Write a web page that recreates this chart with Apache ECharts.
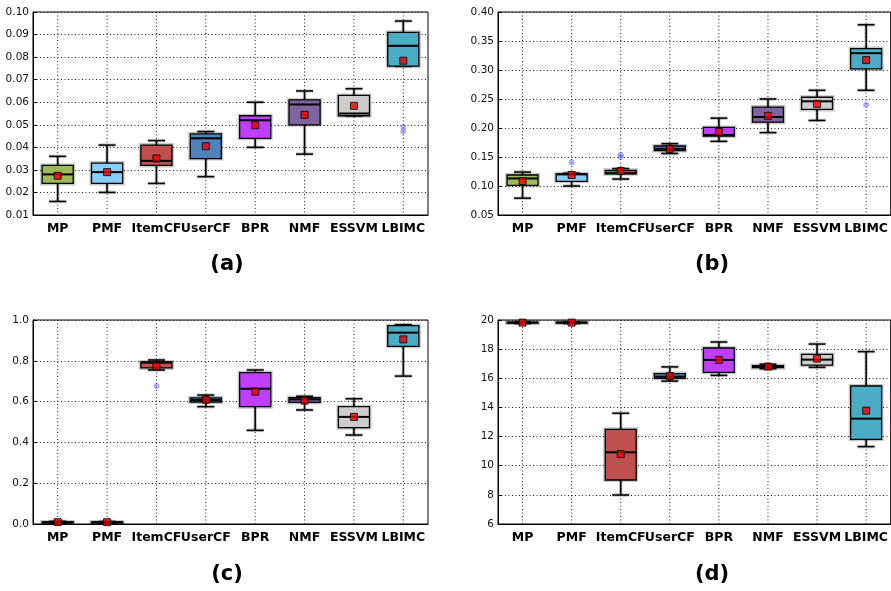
<!DOCTYPE html>
<html><head><meta charset="utf-8">
<script src="https://cdn.jsdelivr.net/npm/echarts@6/dist/echarts.min.js"></script>
<style>html,body{margin:0;padding:0;background:#fff}#c{width:891px;height:591px}</style>
</head><body><div id="c"></div>
<script>
const categories = ['MP','PMF','ItemCF','UserCF','BPR','NMF','ESSVM','LBIMC'];
const boxColors = ['#9bbb59','#87cefa','#c0504d','#4f81bd','#bf3eff','#8064a2','#cccccc','#4bacc6'];

// [low, q1, median, q3, high]
const boxA = [[0.016,0.024,0.028,0.032,0.036],[0.020,0.024,0.029,0.033,0.041],[0.024,0.032,0.034,0.041,0.043],[0.027,0.035,0.044,0.046,0.047],[0.040,0.044,0.052,0.054,0.060],[0.037,0.050,0.059,0.061,0.065],[0.054,0.054,0.055,0.063,0.066],[0.076,0.076,0.085,0.091,0.096]];
const meanA = [0.0274,0.029,0.0351,0.0405,0.0498,0.0544,0.0584,0.0784];
const outA = [['LBIMC',0.049],['LBIMC',0.047]];

const boxB = [[0.079,0.101,0.113,0.119,0.124],[0.100,0.108,0.120,0.121,0.122],[0.112,0.121,0.122,0.127,0.130],[0.156,0.161,0.164,0.169,0.173],[0.177,0.186,0.188,0.201,0.217],[0.192,0.210,0.219,0.236,0.250],[0.213,0.232,0.246,0.253,0.265],[0.265,0.302,0.329,0.337,0.378]];
const meanB = [0.1085,0.119,0.126,0.164,0.193,0.221,0.2416,0.317];
const outB = [['PMF',0.141],['ItemCF',0.154],['ItemCF',0.150],['LBIMC',0.240]];

const boxC = [[0.003,0.006,0.008,0.010,0.013],[0.003,0.006,0.008,0.010,0.012],[0.755,0.765,0.791,0.794,0.804],[0.575,0.598,0.608,0.618,0.632],[0.459,0.575,0.663,0.742,0.755],[0.559,0.596,0.611,0.619,0.626],[0.436,0.472,0.525,0.575,0.614],[0.725,0.871,0.938,0.972,0.977]];
const meanC = [0.009,0.009,0.773,0.609,0.649,0.605,0.525,0.905];
const outC = [['ItemCF',0.676]];

const boxD = [[19.76,19.79,19.82,19.85,19.87],[19.76,19.79,19.82,19.85,19.87],[7.99,9.02,10.92,12.5,13.6],[15.81,16.0,16.11,16.32,16.78],[16.2,16.41,17.26,18.08,18.49],[16.66,16.73,16.8,16.87,16.96],[16.75,16.91,17.28,17.64,18.35],[11.31,11.81,13.23,15.47,17.83]];
const meanD = [19.82,19.82,10.8,16.16,17.26,16.8,17.35,13.78];
const outD = [];

const yTicksA = {min:0.01,max:0.10,interval:0.01,dec:2};
const yTicksB = {min:0.05,max:0.40,interval:0.05,dec:2};
const yTicksC = {min:0,max:1.0,interval:0.2,dec:1};
const yTicksD = {min:6,max:20,interval:2,dec:0};
const panelLabels = ['(a)','(b)','(c)','(d)'];

const FONT = '"DejaVu Sans", sans-serif';
const grids = [
  {left:33, top:12, width:395, height:203},
  {left:498, top:12, width:393, height:203},
  {left:33, top:320, width:395, height:204},
  {left:498, top:320, width:393, height:204}
];
const panels = [
  {box:boxA, mean:meanA, out:outA, ticks:yTicksA},
  {box:boxB, mean:meanB, out:outB, ticks:yTicksB},
  {box:boxC, mean:meanC, out:outC, ticks:yTicksC},
  {box:boxD, mean:meanD, out:outD, ticks:yTicksD}
];

function renderBox(params, api) {
  const xi = api.value(0);
  const lo = api.coord([xi, api.value(1)]);
  const q1 = api.coord([xi, api.value(2)]);
  const md = api.coord([xi, api.value(3)]);
  const q3 = api.coord([xi, api.value(4)]);
  const hi = api.coord([xi, api.value(5)]);
  const bw = api.size([1, 0])[0];
  const boxW = bw * 0.63, capW = boxW * 0.55;
  const cx = lo[0];
  const cs = params.coordSys;
  const col = boxColors[params.dataIndex];
  const blk = {stroke:'#000', lineWidth:1.5};
  const halo = {stroke:'rgba(0,0,0,0.22)', lineWidth:3.5};
  return {
    type:'group',
    children:[
      {type:'line', shape:{x1:cx,y1:cs.y,x2:cx,y2:cs.y+cs.height}, style:{stroke:'#222',lineWidth:1,lineDash:[1,2.5]}},
      {type:'line', shape:{x1:cx,y1:q3[1],x2:cx,y2:hi[1]}, style:halo},
      {type:'line', shape:{x1:cx,y1:q1[1],x2:cx,y2:lo[1]}, style:halo},
      {type:'line', shape:{x1:cx-capW/2,y1:hi[1],x2:cx+capW/2,y2:hi[1]}, style:halo},
      {type:'line', shape:{x1:cx-capW/2,y1:lo[1],x2:cx+capW/2,y2:lo[1]}, style:halo},
      {type:'line', shape:{x1:cx,y1:q3[1],x2:cx,y2:hi[1]}, style:blk},
      {type:'line', shape:{x1:cx,y1:q1[1],x2:cx,y2:lo[1]}, style:blk},
      {type:'line', shape:{x1:cx-capW/2,y1:hi[1],x2:cx+capW/2,y2:hi[1]}, style:blk},
      {type:'line', shape:{x1:cx-capW/2,y1:lo[1],x2:cx+capW/2,y2:lo[1]}, style:blk},
      {type:'rect', shape:{x:cx-boxW/2,y:q3[1],width:boxW,height:Math.max(q1[1]-q3[1],0.5)}, style:{fill:'none',stroke:'rgba(0,0,0,0.22)',lineWidth:4}},
      {type:'rect', shape:{x:cx-boxW/2,y:q3[1],width:boxW,height:Math.max(q1[1]-q3[1],0.5)}, style:{fill:col,stroke:'#000',lineWidth:1.3}},
      {type:'line', shape:{x1:cx-boxW/2,y1:md[1],x2:cx+boxW/2,y2:md[1]}, style:{stroke:'#000',lineWidth:2}}
    ]
  };
}

const xAxis = [], yAxis = [], series = [];
panels.forEach((p, k) => {
  xAxis.push({
    type:'category', gridIndex:k, data:categories, boundaryGap:true,
    axisLine:{show:true, lineStyle:{color:'#000', width:1}},
    axisTick:{show:false},
    axisLabel:{color:'#000', fontFamily:FONT, fontWeight:'bold', fontSize:12.5, margin:7, interval:0},
    splitLine:{show:false}
  });
  yAxis.push({
    type:'value', gridIndex:k, min:p.ticks.min, max:p.ticks.max, interval:p.ticks.interval,
    axisLine:{show:true, lineStyle:{color:'#000', width:1}},
    axisTick:{show:true, inside:true, length:4, lineStyle:{color:'#000'}},
    axisLabel:{color:'#111', fontFamily:FONT, fontSize:10.5, margin:4,
      formatter:(v)=>Number(v).toFixed(p.ticks.dec)},
    splitLine:{show:true, lineStyle:{color:'#222', width:1, type:[1,2.5]}}
  });
  series.push({
    type:'custom', xAxisIndex:k, yAxisIndex:k, renderItem:renderBox,
    encode:{x:0, y:[1,2,3,4,5]},
    data:p.box.map((b,i)=>[i].concat(b)), z:2, clip:false
  });
  series.push({
    type:'scatter', xAxisIndex:k, yAxisIndex:k, data:p.out,
    symbol:'circle', symbolSize:6,
    itemStyle:{color:'rgba(70,80,255,0.55)'}, z:3
  });
  series.push({
    type:'scatter', xAxisIndex:k, yAxisIndex:k,
    data:p.mean.map((m,i)=>[categories[i], m]),
    symbol:'rect', symbolSize:7,
    itemStyle:{color:'#ee0000', borderColor:'#000', borderWidth:1}, z:4
  });
});

const labelPos = [[227,265],[712,265],[227,575],[712,575]];
const graphic = panelLabels.map((t,i)=>({
  type:'text', x:labelPos[i][0], y:labelPos[i][1],
  style:{text:t, fontFamily:FONT, fontWeight:'bold', fontSize:21, fill:'#000', align:'center', verticalAlign:'middle'}
}));

const chart = echarts.init(document.getElementById('c'), null, {renderer:'canvas'});
chart.setOption({
  animation:false,
  backgroundColor:'#fff',
  grid:grids.map(g=>Object.assign({show:true, borderColor:'#000', borderWidth:1, backgroundColor:'transparent'}, g)),
  xAxis, yAxis, series, graphic
});
</script></body></html>
